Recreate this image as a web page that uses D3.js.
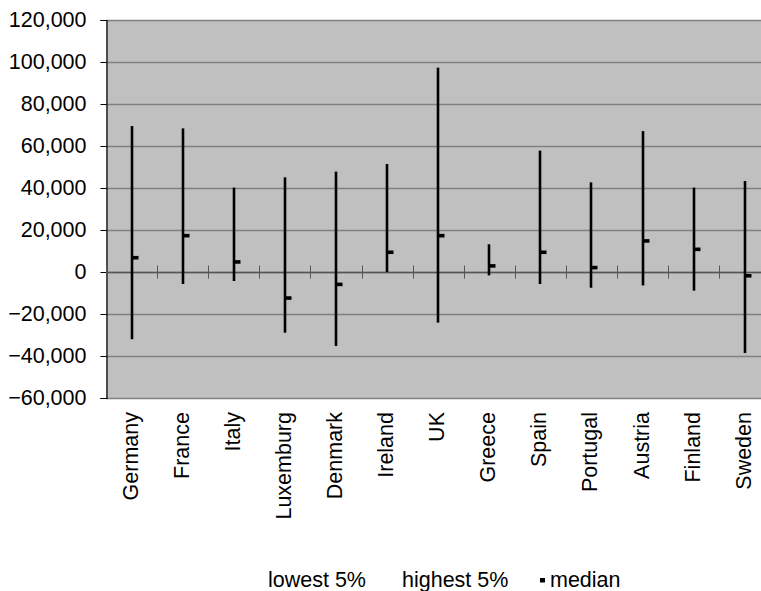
<!DOCTYPE html>
<html>
<head>
<meta charset="utf-8">
<script src="https://cdn.jsdelivr.net/npm/d3@7"></script>
<style>
  html, body { margin: 0; padding: 0; background: #fff; }
  svg { display: block; font-family: "Liberation Sans", Arial, sans-serif; }
</style>
</head>
<body>
<svg id="chart" width="761" height="591"></svg>
<script>
// Countries shown along the category axis
const countries = ["Germany", "France", "Italy", "Luxemburg", "Denmark", "Ireland", "UK",
                   "Greece", "Spain", "Portugal", "Austria", "Finland", "Sweden"];
// High / low / median values per country
const highest5 = [69500, 68400, 40200, 45100, 47800, 51400, 97300, 13200, 57800, 42700, 67100, 40200, 43300];
const lowest5  = [-32000, -5700, -4300, -28900, -35200, 0, -24100, -1600, -5700, -7500, -6400, -8900, -38600];
const median   = [6800, 17300, 4800, -12400, -5900, 9400, 17300, 2900, 9400, 2100, 14800, 10800, -1800];
// Value axis ticks
const yTicks = [-60000, -40000, -20000, 0, 20000, 40000, 60000, 80000, 100000, 120000];
const legendLabels = ["lowest 5%", "highest 5%", "median"];

const fontSize = 21.5;
const svg = d3.select("#chart");
const plotLeft = 106, plotTop = 20, plotBottom = 398, band = 51.1;
const plotRight = plotLeft + band * countries.length;

const x = d3.scaleBand().domain(countries).range([plotLeft, plotRight]).padding(0);
const y = d3.scaleLinear().domain([-60000, 120000]).range([plotBottom, plotTop]);

// Plot area background
svg.append("rect")
  .attr("x", plotLeft).attr("y", plotTop)
  .attr("width", plotRight - plotLeft).attr("height", plotBottom - plotTop)
  .attr("fill", "#c0c0c0");

// Horizontal gridlines
svg.append("g").selectAll("line").data(yTicks).join("line")
  .attr("x1", plotLeft).attr("x2", plotRight)
  .attr("y1", d => Math.round(y(d)) + 0.5).attr("y2", d => Math.round(y(d)) + 0.5)
  .attr("stroke", "#808080").attr("stroke-width", 1.3);

// Value axis
const yAxis = svg.append("g")
  .attr("transform", `translate(${plotLeft + 0.5},0)`)
  .call(d3.axisLeft(y).tickValues(yTicks).tickFormat(d3.format(",")).tickSize(6).tickPadding(14));
yAxis.select(".domain").attr("stroke", "#000").attr("stroke-width", 1.2);
yAxis.selectAll(".tick line").attr("stroke", "#000");
yAxis.selectAll(".tick text")
  .attr("font-size", fontSize).attr("fill", "#000")
  .style("font-family", "'Liberation Sans', Arial, sans-serif");

// Category axis crossing at zero with cross tick marks at band edges
const zeroY = Math.round(y(0)) + 0.5;
const xg = svg.append("g");
xg.append("line")
  .attr("x1", plotLeft).attr("x2", plotRight)
  .attr("y1", zeroY).attr("y2", zeroY)
  .attr("stroke", "#555").attr("stroke-width", 1.3);
const edges = countries.map(c => x(c));
xg.selectAll("line.tick").data(edges).join("line")
  .attr("class", "tick")
  .attr("x1", d => Math.round(d) + 0.5).attr("x2", d => Math.round(d) + 0.5)
  .attr("y1", zeroY - 7).attr("y2", zeroY + 6)
  .attr("stroke", "#555").attr("stroke-width", 1);

// Category labels, rotated, below the plot area
svg.append("g").selectAll("text").data(countries).join("text")
  .attr("transform", d => `translate(${x(d) + x.bandwidth() / 2 - 1.5},${plotBottom + 14}) rotate(-90)`)
  .attr("text-anchor", "end")
  .attr("dy", "0.35em")
  .attr("font-size", fontSize)
  .attr("fill", "#000")
  .text(d => d);

// High-low lines
const cx = i => Math.round(x(countries[i]) + x.bandwidth() / 2);
svg.append("g").selectAll("line").data(countries).join("line")
  .attr("x1", (d, i) => cx(i)).attr("x2", (d, i) => cx(i))
  .attr("y1", (d, i) => y(highest5[i])).attr("y2", (d, i) => y(lowest5[i]))
  .attr("stroke", "#000").attr("stroke-width", 2.6);

// Median markers
svg.append("g").selectAll("rect").data(countries).join("rect")
  .attr("x", (d, i) => cx(i))
  .attr("y", (d, i) => y(median[i]) - 1.8)
  .attr("width", 6.5).attr("height", 3.6)
  .attr("fill", "#000");

// Legend
const lg = svg.append("g").attr("font-size", fontSize).attr("fill", "#000");
lg.append("text").attr("x", 268).attr("y", 587).text(legendLabels[0]);
lg.append("text").attr("x", 402).attr("y", 587).text(legendLabels[1]);
lg.append("rect").attr("x", 540).attr("y", 578).attr("width", 5).attr("height", 4.5).attr("fill", "#000");
lg.append("text").attr("x", 550).attr("y", 587).text(legendLabels[2]);
</script>
</body>
</html>
